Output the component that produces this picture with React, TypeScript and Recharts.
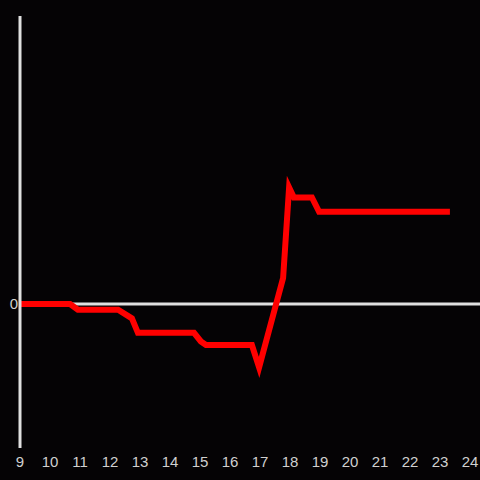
import { LineChart, Line, XAxis, YAxis, ReferenceLine } from 'recharts';

// hour of day (decimal) and value
const hours = [9, 10.67, 10.93, 12.27, 12.73, 12.93, 14.8, 15.03, 15.2, 16.73, 16.97, 17.77, 17.97, 18.13, 18.73, 18.97, 23.33];
const values = [0, 0, -0.04, -0.04, -0.1, -0.2, -0.2, -0.26, -0.285, -0.285, -0.44, 0.18, 0.81, 0.74, 0.74, 0.64, 0.64];
const hourTicks = [9, 10, 11, 12, 13, 14, 15, 16, 17, 18, 19, 20, 21, 22, 23, 24];

const data = hours.map((h, i) => ({ hour: h, value: values[i] }));

const tickStyle = { fill: '#d0d0d0', fontSize: 15, fontFamily: 'Liberation Sans, Arial, sans-serif' };

const App = () => {
    return (
        <div style={{ position: 'fixed', top: 0, left: 0, width: 480, height: 480, background: '#050305' }}>
            <LineChart
                width={480}
                height={480}
                data={data}
                margin={{ top: 16, right: 0, left: 0, bottom: 0 }}
                style={{ fontSize: 15, fontFamily: 'Liberation Sans, Arial, sans-serif' }}
            >
                <XAxis
                    dataKey="hour"
                    type="number"
                    domain={[9, 24.333]}
                    ticks={hourTicks}
                    allowDataOverflow
                    axisLine={false}
                    tickLine={false}
                    height={32}
                    fontSize={15}
                    tick={tickStyle}
                />
                <YAxis
                    type="number"
                    domain={[-1, 2]}
                    ticks={[0]}
                    width={20}
                    tickLine={false}
                    tickSize={1}
                    tickMargin={1}
                    fontSize={15}
                    axisLine={{ stroke: '#e0e0e0', strokeWidth: 3 }}
                    tick={tickStyle}
                />
                <ReferenceLine y={0} stroke="#e0e0e0" strokeWidth={3} />
                <Line
                    type="linear"
                    dataKey="value"
                    stroke="#ff0000"
                    strokeWidth={6}
                    dot={false}
                    isAnimationActive={false}
                />
            </LineChart>
        </div>
    );
};

export default App;
